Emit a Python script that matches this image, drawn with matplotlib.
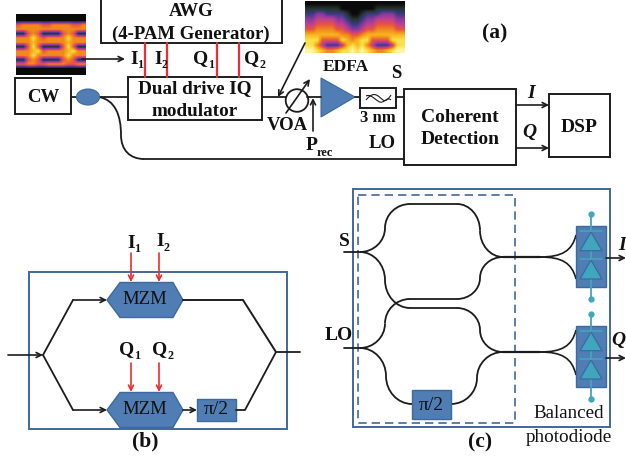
import numpy as np
import matplotlib
matplotlib.use("Agg")
import matplotlib.pyplot as plt
from matplotlib.colors import LinearSegmentedColormap
from matplotlib.patches import Rectangle, Polygon, Ellipse, Circle, PathPatch
from matplotlib.path import Path

plt.rcParams["font.family"] = ["Liberation Serif", "DejaVu Serif"]

BLACK = "#1c1c1c"
RED = "#ee2b30"
BLUE = "#4f7db4"
BLUE_EDGE = "#3d6a9c"
FRAME = "#41689c"
TEAL = "#3fa6bd"

# intensity, 0 = black ... 9 = pale yellow
eye_rows = [
    "00000000000000",
    "00000000000000",
    "56666556666556",
    "66666666666666",
    "11565111156511",
    "66686566668666",
    "66676666667666",
    "11585111158511",
    "66678566667866",
    "66686666668666",
    "11565111156511",
    "55665566665566",
    "00000000000000",
    "00000000000000",
]
spectrum_rows = [
    "00000000000000000000",
    "11111110000000111111",
    "22332222100122233322",
    "33444433211233444433",
    "44555544322344555544",
    "55666655433455666655",
    "77777776655677777777",
    "88855558767885555888",
    "88642224787864222488",
    "99876678898987667899",
]
scope_colors = ["#0a0a0a", "#28352f", "#3b3a82", "#8a3a9c", "#c23f8f",
                "#e8553f", "#f08a1e", "#f9b51f", "#fbe04a", "#fdf6a8"]

awg_lines = [145, 167, 217, 239]
top_labels = [("I", "1", 134), ("I", "2", 158), ("Q", "1", 201), ("Q", "2", 252)]
b_inputs = [131, 159]
pd_tops = [226, 326]
pd_splits = [257, 352]
pd_upper = [235, 330]
pd_lower = [279, 375]


def box(x0, y0, x1, y1, fc="white", ec=BLACK, lw=1.4, **kw):
    ax.add_patch(Rectangle((x0, y0), x1 - x0, y1 - y0, fc=fc, ec=ec, lw=lw, **kw))


def line(xs, ys, color=BLACK, lw=1.3, **kw):
    ax.plot(xs, ys, color=color, lw=lw, solid_capstyle="round", **kw)


def arrow(x0, y0, x1, y1, color=BLACK, lw=1.2):
    ax.annotate("", xy=(x1, y1), xytext=(x0, y0),
                arrowprops=dict(arrowstyle="->", color=color, lw=lw, shrinkA=0, shrinkB=0,
                                mutation_scale=9))


def label(x, y, s, size=11.5, weight="bold", style="normal"):
    ax.text(x, y, s, fontsize=size, fontweight=weight, fontstyle=style, ha="center",
            va="center", color="#111111")


def sub_label(x, y, s, sub, size=14):
    ax.text(x, y, s, fontsize=size, fontweight="bold", ha="center", va="center", color="#111111")
    dx = 7 if s == "I" else 11
    ax.text(x + dx, y + 6, sub, fontsize=size * 0.62, fontweight="bold", ha="center",
            va="center", color="#111111")


def curve(p0, c1, c2, p1, lw=1.3):
    verts = [p0, c1, c2, p1]
    codes = [Path.MOVETO, Path.CURVE4, Path.CURVE4, Path.CURVE4]
    ax.add_patch(PathPatch(Path(verts, codes), fc="none", ec=BLACK, lw=lw))


def s_bend(x0, y0, x1, y1):
    # two quarter ellipses, flat at both ends and vertical in the middle
    xm = (x0 + x1) / 2
    ym = (y0 + y1) / 2
    curve((x0, y0), (x0 + (xm - x0) * 0.55, y0), (xm, y0 + (ym - y0) * 0.45), (xm, ym))
    curve((xm, ym), (xm, y1 - (y1 - ym) * 0.45), (x1 - (x1 - xm) * 0.55, y1), (x1, y1))


def mzm(cy):
    cx0, cx1 = 107, 183
    top, bot = cy - 17.5, cy + 17.5
    ax.add_patch(Polygon([(cx0, cy), (120, top), (173, top), (cx1, cy), (173, bot), (120, bot)],
                         fc=BLUE, ec=BLUE_EDGE, lw=1))
    label(145, cy, "MZM", size=13.5, weight="normal")


fig = plt.figure(figsize=(6.26, 4.57), dpi=100)
ax = fig.add_axes([0, 0, 1, 1])
ax.set_xlim(0, 626)
ax.set_ylim(457, 0)
ax.axis("off")

# ---- scope pictures
scope_cmap = LinearSegmentedColormap.from_list("scope", scope_colors)
eye = np.array([[int(c) for c in r] for r in eye_rows])
spectrum = np.array([[int(c) for c in r] for r in spectrum_rows])
ax.imshow(eye, extent=(16, 86, 75, 14), cmap=scope_cmap, vmin=0, vmax=9,
          interpolation="bilinear", aspect="auto", zorder=1)
ax.imshow(spectrum, extent=(305, 405, 53, 1), cmap=scope_cmap, vmin=0, vmax=9,
          interpolation="bilinear", aspect="auto", zorder=1)
ax.set_xlim(0, 626)
ax.set_ylim(457, 0)

# ---- (a) setup
box(100.5, -1, 282, 43)
label(191, 12, "AWG", size=13.5)
label(191, 34, "(4-PAM Generator)", size=13.5)
for x in awg_lines:
    line([x, x], [43, 77], color=RED, lw=1.6)
for s, sub, x in top_labels:
    sub_label(x, 59, s, sub)
arrow(82, 59, 125, 59)

box(15, 78, 71, 114)
label(43, 97, "CW", size=13.5)
line([71, 128], [97, 97])
ax.add_patch(Ellipse((88, 97), 23, 16, fc=BLUE, ec=BLUE_EDGE, lw=0.8, zorder=3))
curve((99, 97), (115, 100), (121, 115), (121, 135))
curve((121, 135), (121, 150), (130, 159), (144, 159))
line([144, 404], [159, 159])

box(128, 77, 262, 120)
label(195, 89, "Dual drive IQ", size=13.8)
label(195, 111, "modulator", size=13.8)

line([262, 286], [97, 97])
ax.add_patch(Circle((297, 100.5), 11.3, fc="white", ec=BLACK, lw=1.3))
arrow(286, 113, 310, 79)
arrow(305, 43, 278, 97)
label(287, 125, "VOA", size=13.5)
line([307, 321], [97, 97])
arrow(313, 131, 313, 98)
label(312, 145, "P", size=14)
label(325, 153, "rec", size=9)

ax.add_patch(Polygon([(321, 78), (321, 117), (355, 97)], fc=BLUE, ec=BLUE_EDGE, lw=0.8))
label(346, 67, "EDFA", size=12.5)
label(396, 73, "S", size=13.5)
line([355, 360], [97, 97])
box(360, 88, 396, 108)
curve((366, 100), (374, 90), (378, 96), (383, 100), lw=0.8)
curve((383, 100), (386, 102), (389, 98), (391, 95), lw=0.8)
curve((366, 96), (372, 93), (378, 104), (382, 102), lw=0.8)
curve((382, 102), (386, 101), (388, 97), (391, 100), lw=0.8)
label(378, 118, "3 nm", size=12)
line([396, 404], [97, 97])
label(382, 144, "LO", size=13.5)

box(404, 89, 516, 165)
label(460, 117, "Coherent", size=14)
label(460, 140, "Detection", size=14)
arrow(516, 105, 549, 105)
arrow(516, 148, 549, 148)
label(531, 93, "I", size=14, style="italic")
label(529, 133, "Q", size=14, style="italic")
box(549, 94, 610, 157)
label(579, 127, "DSP", size=14)
label(495, 33, "(a)", size=15.5)

# ---- (b) IQ modulator
box(29, 272, 287, 429, ec=FRAME)
arrow(8, 355, 43, 355)
line([43, 73], [355, 300])
arrow(73, 300, 107, 300)
line([43, 73], [355, 410])
arrow(73, 410, 107, 410)
mzm(300)
mzm(410)
line([183, 243, 276], [300, 300, 352], lw=1.4)
arrow(183, 410, 197, 410)
box(197, 399, 236, 421, fc=BLUE, ec=BLUE_EDGE, lw=1)
label(216.5, 410, "π/2", size=14, weight="normal")
line([236, 245, 276, 300], [410, 410, 352, 352])
for x in b_inputs:
    arrow(x, 253, x, 282, color=RED)
    arrow(x, 363, x, 392, color=RED)
sub_label(131, 243, "I", "1")
sub_label(160, 242, "I", "2")
sub_label(127, 350, "Q", "1")
sub_label(160, 350, "Q", "2")
label(145, 441, "(b)", size=15.5)

# ---- (c) coherent receiver
box(353, 189, 610, 427, ec=FRAME)
box(358, 195, 515, 423, fc="none", ec=FRAME, lw=1.2, ls=(0, (5, 3)))

line([344, 360], [252, 252])
line([344, 360], [348, 348])
s_bend(360, 252, 410, 204)
line([410, 457], [204, 204])
s_bend(457, 204, 503, 257)
s_bend(360, 252, 410, 308)
line([410, 457], [308, 308])
s_bend(457, 308, 503, 352)
s_bend(360, 348, 410, 299)
line([410, 457], [299, 299])
s_bend(457, 299, 503, 257)
s_bend(360, 348, 412, 404)
s_bend(451, 404, 503, 352)
box(412, 390, 451, 419, fc=BLUE, ec=BLUE_EDGE, lw=1)
label(431.5, 405, "π/2", size=14, weight="normal")
line([503, 540], [257, 257], lw=1.6)
line([503, 540], [352, 352], lw=1.6)

for top, split, up, low in zip(pd_tops, pd_splits, pd_upper, pd_lower):
    curve((540, split), (562, split), (572, split - 6), (576, up), lw=1.2)
    curve((540, split), (562, split), (572, split + 6), (576, low), lw=1.2)
    box(576, top, 606, top + 61, fc=BLUE, ec=BLUE_EDGE, lw=1)
    line([591, 591], [top - 12, top + 73], color=TEAL, lw=1.3, zorder=5)
    ax.plot([591, 591], [top - 12, top + 73], "o", color=TEAL, ms=3.5, zorder=5)
    for base, apex, bar in [(top + 24.7, top + 6, top + 4.7), (top + 53, top + 34, top + 33)]:
        ax.add_patch(Polygon([(580, base), (602, base), (591, apex)], fc=TEAL, ec=BLUE_EDGE,
                             lw=0.9, zorder=6))
        line([580, 602], [bar, bar], color=TEAL, lw=1.2, zorder=6)
    arrow(606, top + 32, 626, top + 32)

label(344, 242, "S", size=14)
label(339, 335, "LO", size=14)
label(622, 246, "I", size=14, style="italic")
label(618, 340, "Q", size=14, style="italic")
label(569, 413, "Balanced", size=13.7, weight="normal")
label(569, 437, "photodiode", size=13.8, weight="normal")
label(480, 442, "(c)", size=15.5)

fig.savefig("out.png", dpi=100)
